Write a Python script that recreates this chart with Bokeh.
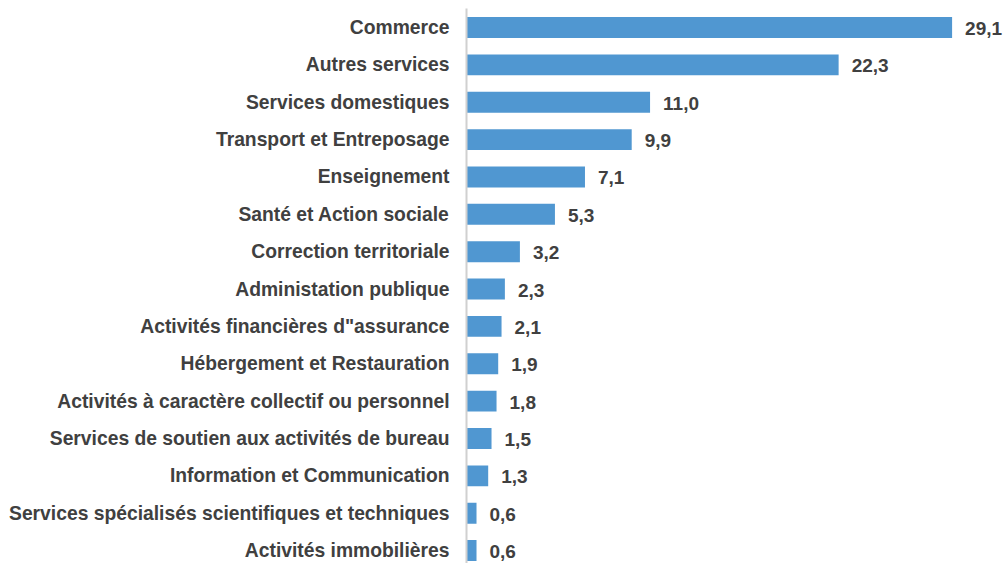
from bokeh.plotting import figure
from bokeh.models import ColumnDataSource, Range1d, FixedTicker
from bokeh.embed import file_html
from bokeh.resources import INLINE
from bokeh.core.properties import value

categories = [
    "Commerce",
    "Autres services",
    "Services domestiques",
    "Transport et Entreposage",
    "Enseignement",
    "Santé et Action sociale",
    "Correction territoriale",
    "Administation publique",
    "Activités financières d\"assurance",
    "Hébergement et Restauration",
    "Activités à caractère collectif ou personnel",
    "Services de soutien aux activités de bureau",
    "Information et Communication",
    "Services spécialisés scientifiques et techniques",
    "Activités immobilières",
]
values = [29.1, 22.3, 11.0, 9.9, 7.1, 5.3, 3.2, 2.3, 2.1, 1.9, 1.8, 1.5, 1.3, 0.6, 0.6]

n = len(categories)
ypos = [n - 1 - i for i in range(n)]
labels = [f"{v:.1f}".replace(".", ",") for v in values]

src = ColumnDataSource(dict(y=ypos, v=values, lab=labels, cat=categories))

FONT = "Liberation Sans"
TXT = "#404040"

p = figure(width=1005, height=563, output_backend="svg", toolbar_location=None,
           x_range=Range1d(0, 32.3), y_range=Range1d(-0.346, 14.509),
           min_border_left=466, min_border_right=0, min_border_top=8, min_border_bottom=0)

p.hbar(y="y", right="v", left=0, height=0.56, source=src,
       fill_color="#5097D1", line_color=None)

p.text(x="v", y="y", text="lab", source=src, x_offset=13, y_offset=1,
       text_baseline="middle", text_align="left",
       text_font=value(FONT), text_font_style="bold", text_font_size="19px",
       text_color=TXT)

p.xaxis.visible = False
p.xgrid.visible = False
p.ygrid.visible = False
p.outline_line_color = None

yax = p.yaxis[0]
yax.ticker = FixedTicker(ticks=ypos)
yax.major_label_overrides = {y: c for y, c in zip(ypos, categories)}
yax.major_tick_line_color = None
yax.minor_tick_line_color = None
yax.major_tick_out = 0
yax.major_tick_in = 0
yax.major_label_standoff = 17
yax.major_label_text_font = FONT
yax.major_label_text_font_style = "bold"
yax.major_label_text_font_size = "19.3px"
yax.major_label_text_color = TXT
yax.axis_line_color = "#d0d0d0"
yax.axis_line_width = 2

open("out.html", "w").write(file_html(p, INLINE))
